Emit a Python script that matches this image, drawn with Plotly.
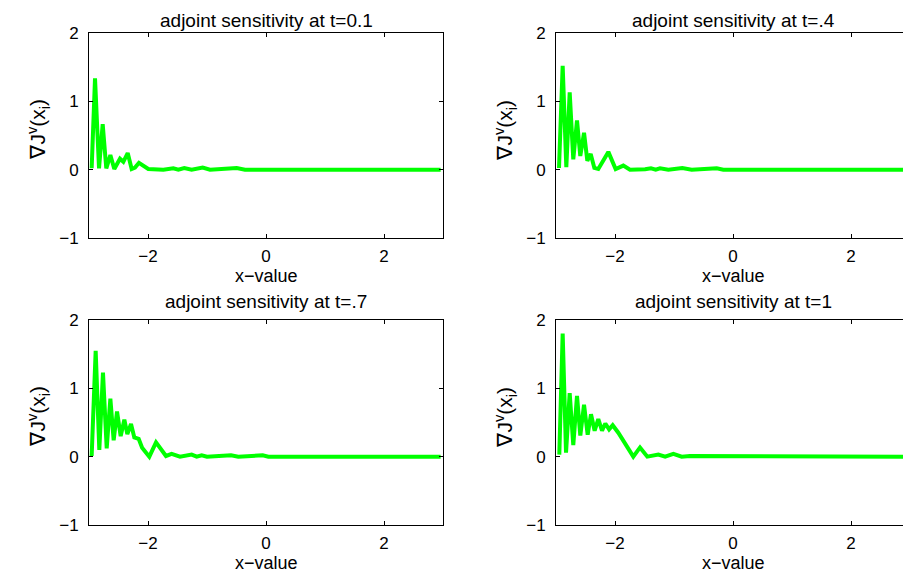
import plotly.graph_objects as go

W, H = 903, 575

titles = ["adjoint sensitivity at t=0.1", "adjoint sensitivity at t=.4",
          "adjoint sensitivity at t=.7", "adjoint sensitivity at t=1"]

# t = 0.1
x1 = [-2.955, -2.898, -2.83, -2.768, -2.707, -2.638, -2.571, -2.475, -2.418, -2.344, -2.277,
      -2.22, -2.153, -2.08, -1.995, -1.74, -1.571, -1.486, -1.385, -1.26, -1.073, -0.949,
      -0.497, -0.356, 0.5, 1.5, 2.96]
y1 = [0.02, 1.335, 0.02, 0.667, 0.02, 0.214, 0.01, 0.16, 0.115, 0.243, 0.01,
      0.03, 0.10, 0.05, 0.01, 0.0, 0.02, 0.0, 0.025, 0.0, 0.03, 0.0,
      0.025, 0.0, 0.0, 0.0, 0.0]

# t = .4
x2 = [-2.949, -2.887, -2.825, -2.768, -2.707, -2.644, -2.588, -2.525, -2.469, -2.412, -2.35,
      -2.283, -2.113, -1.989, -1.859, -1.746, -1.49, -1.39, -1.31, -1.237, -1.096, -0.859,
      -0.70, -0.276, -0.164, 0.5, 1.5, 2.96]
y2 = [0.025, 1.52, 0.035, 1.13, 0.15, 0.72, 0.2, 0.54, 0.13, 0.23, 0.025,
      0.01, 0.26, 0.01, 0.06, 0.0, 0.005, 0.02, 0.0, 0.02, 0.0, 0.025,
      0.0, 0.02, 0.0, 0.0, 0.0, 0.0]

# t = .7
x3 = [-2.955, -2.887, -2.825, -2.763, -2.70, -2.638, -2.582, -2.525, -2.463, -2.401, -2.35,
      -2.288, -2.232, -2.158, -2.10, -1.978, -1.864, -1.695, -1.6, -1.458, -1.26, -1.175,
      -1.09, -1.0, -0.593, -0.47, -0.056, 0.04, 1.0, 2.96]
y3 = [0.01, 1.55, 0.10, 1.23, 0.12, 0.85, 0.24, 0.66, 0.30, 0.54, 0.33,
      0.48, 0.28, 0.26, 0.13, 0.0, 0.21, 0.01, 0.04, 0.0, 0.03, 0.0,
      0.02, 0.0, 0.02, 0.0, 0.02, 0.0, 0.0, 0.0]

# t = 1
x4 = [-2.944, -2.887, -2.83, -2.768, -2.707, -2.644, -2.588, -2.525, -2.463, -2.407, -2.345,
      -2.283, -2.22, -2.164, -2.10, -2.039, -1.944, -1.814, -1.69, -1.576, -1.452, -1.266,
      -1.15, -1.011, -0.87, -0.73, -0.333, -0.13, 1.0, 2.96]
y4 = [0.03, 1.80, 0.06, 0.93, 0.17, 0.89, 0.31, 0.76, 0.32, 0.62, 0.38,
      0.55, 0.38, 0.485, 0.40, 0.46, 0.35, 0.16, 0.0, 0.135, 0.0, 0.03,
      0.0, 0.04, 0.0, 0.01, 0.01, 0.01, 0.0, 0.0]

xs = [x1, x2, x3, x4]
ys = [y1, y2, y3, y4]

x_tickvals = [-2, 0, 2]
x_ticktext = ["\u22122", "0", "2"]
y_tickvals = [-1, 0, 1, 2]
y_ticktext = ["\u22121", "0", "1", "2"]

FONT = "Liberation Sans, Arial, sans-serif"
FS_TITLE = 19
FS_TICK = 17
FS_YLAB = 21
GREEN = "#00ff00"

# pixel layout
left_px = [89, 556, 89, 556]
right_px = [443, 903, 443, 903]
top_px = [33, 33, 320, 320]
bot_px = [238, 238, 525, 525]
PX_PER_UNIT = 59.0

fig = go.Figure()
annotations = []
for i in range(4):
    n = "" if i == 0 else str(i + 1)
    fig.add_trace(go.Scatter(x=xs[i], y=ys[i], mode="lines",
                             line=dict(color=GREEN, width=4),
                             xaxis="x" + n, yaxis="y" + n, showlegend=False,
                             hoverinfo="skip"))
    xr0 = -3.0
    xr1 = xr0 + (right_px[i] - left_px[i]) / PX_PER_UNIT
    is_right = i in (1, 3)
    common = dict(showline=True, linecolor="black", linewidth=1, ticks="inside",
                  ticklen=4, tickcolor="black", tickwidth=1, showgrid=False,
                  zeroline=False, automargin=False,
                  tickfont=dict(family=FONT, size=FS_TICK, color="black"))
    fig.layout["xaxis" + n] = dict(
        domain=[left_px[i] / W, right_px[i] / W], range=[xr0, xr1],
        anchor="y" + n, tickmode="array", tickvals=x_tickvals, ticktext=x_ticktext,
        mirror="ticks", ticklabelstandoff=3, **common)
    fig.layout["yaxis" + n] = dict(
        domain=[1 - bot_px[i] / H, 1 - top_px[i] / H], range=[-1, 2],
        anchor="x" + n, tickmode="array", tickvals=y_tickvals, ticktext=y_ticktext,
        mirror=(False if is_right else "ticks"), ticklabelstandoff=6, **common)
    cx = (left_px[i] + (443 - 89) / 2) / W
    # title
    annotations.append(dict(text=titles[i], x=cx, y=1 - (20 if i < 2 else 301) / H,
                            xref="paper", yref="paper", showarrow=False,
                            xanchor="center", yanchor="middle",
                            font=dict(family=FONT, size=FS_TITLE, color="black")))
    # x label
    annotations.append(dict(text="x\u2212value", x=cx, y=1 - (276 if i < 2 else 563) / H,
                            xref="paper", yref="paper", showarrow=False,
                            xanchor="center", yanchor="middle",
                            font=dict(family=FONT, size=18, color="black")))
    # y label
    annotations.append(dict(text="\u2207J<sup>v</sup>(x<sub>i</sub>)",
                            x=(left_px[i] - 51) / W,
                            y=1 - ((top_px[i] + bot_px[i]) / 2 - 6) / H,
                            xref="paper", yref="paper", showarrow=False,
                            xanchor="center", yanchor="middle", textangle=-90,
                            font=dict(family=FONT, size=FS_YLAB, color="black")))

fig.update_layout(width=W, height=H,
                  margin=dict(l=0, r=0, t=0, b=0, pad=0, autoexpand=False),
                  plot_bgcolor="white", paper_bgcolor="white",
                  annotations=annotations, showlegend=False)

fig.write_html("out.html",
               post_script="document.body.style.margin='0';document.body.style.overflow='hidden';")
